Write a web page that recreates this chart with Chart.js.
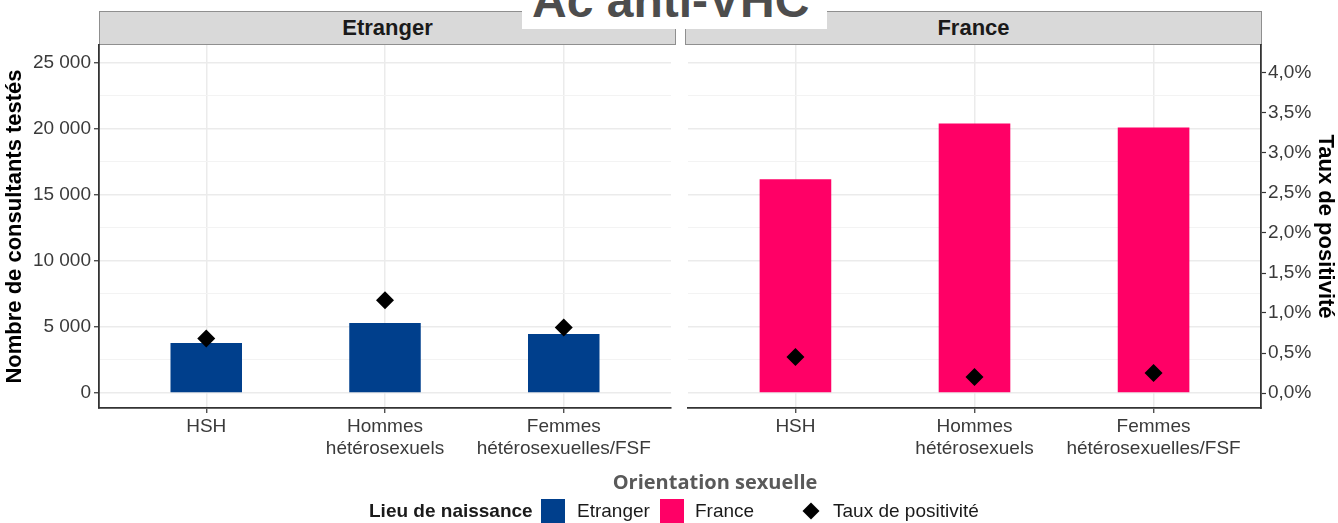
<!DOCTYPE html>
<html>
<head>
<meta charset="utf-8">
<title>Ac anti-VHC</title>
<script src="https://cdn.jsdelivr.net/npm/chart.js@4.4.1/dist/chart.umd.min.js"></script>
<style>
  body {
    margin: 0;
    width: 1338px;
    height: 523px;
    position: relative;
    overflow: hidden;
    background: #fff;
    font-family: "Liberation Sans", Arial, sans-serif;
  }
  canvas { position: absolute; top: 0; }
  .strip {
    position: absolute;
    top: 11px;
    height: 34px;
    box-sizing: border-box;
    background: #d9d9d9;
    border: 1px solid #8f8f8f;
    text-align: center;
    font-weight: bold;
    font-size: 22px;
    line-height: 32px;
    color: #1a1a1a;
  }
  .title {
    position: absolute;
    left: 522px;
    top: 0;
    width: 305px;
    height: 29px;
    background: #fff;
    overflow: hidden;
    z-index: 5;
  }
  .title span {
    position: absolute;
    left: 10px;
    top: -27px;
    font-size: 48px;
    font-weight: bold;
    color: #4d4d4d;
    white-space: nowrap;
  }
  .xtitle {
    position: absolute;
    left: 515px;
    width: 400px;
    top: 468px;
    text-align: center;
    font-family: "Open Sans", sans-serif;
    font-weight: bold;
    font-size: 20px;
    color: #595959;
  }
  .leg { position: absolute; top: 499px; font-size: 19px; color: #1a1a1a; line-height: 24px; white-space: nowrap; }
  .key { position: absolute; top: 499px; width: 24px; height: 24px; }
</style>
</head>
<body>

<div class="strip" id="strip0" style="left:99px;width:577px;"></div>
<div class="strip" id="strip1" style="left:685px;width:577px;"></div>
<div class="title"><span>Ac anti-VHC</span></div>

<canvas id="chartEtranger" width="680" height="523" style="left:0;width:680px;height:523px;"></canvas>
<canvas id="chartFrance" width="659" height="523" style="left:679px;width:659px;height:523px;"></canvas>

<div class="xtitle">Orientation sexuelle</div>
<div class="leg" style="left:369px;font-weight:bold;">Lieu de naissance</div>
<div class="key" style="left:541px;background:#003f8c;"></div>
<div class="leg" style="left:577px;">Etranger</div>
<div class="key" style="left:660px;background:#ff0066;"></div>
<div class="leg" style="left:695px;">France</div>
<div class="key" style="left:805px;top:505px;width:12px;height:12px;background:#000;transform:rotate(45deg);"></div>
<div class="leg" style="left:833px;">Taux de positivité</div>

<script>
// categories (x axis) and facets
const categories = [["HSH"], ["Hommes", "hétérosexuels"], ["Femmes", "hétérosexuelles/FSF"]];
const panels = ["Etranger", "France"];

// number of tested consultants, per facet
const testedEtranger = [3780, 5290, 4460];
const testedFrance = [16160, 20390, 20090];

// positivity rate (%), per facet
const rateEtranger = [0.68, 1.16, 0.82];
const rateFrance = [0.45, 0.20, 0.25];

// axis ticks
const countTicks = [0, 5000, 10000, 15000, 20000, 25000];
const rateTicks = [0, 0.5, 1, 1.5, 2, 2.5, 3, 3.5, 4];

const barColors = ["#003f8c", "#ff0066"];
const tickFont = { family: "Liberation Sans", size: 19 };
const titleFont = { family: "Liberation Sans", size: 22, weight: "bold" };
const gridMajor = "#ebebeb";
const gridMinor = "#f3f3f3";
const axisCol = "#333333";

document.getElementById("strip0").textContent = panels[0];
document.getElementById("strip1").textContent = panels[1];

// major ticks plus the minor ones between them
const countGrid = [];
countTicks.forEach((v, i) => {
  countGrid.push(v);
  if (i < countTicks.length - 1) countGrid.push((v + countTicks[i + 1]) / 2);
});

const fmtCount = (v) => String(v).replace(/\B(?=(\d{3})+(?!\d))/g, " ");
const fmtRate = (v) => v.toFixed(1).replace(".", ",") + "%";

// keep chart area fixed: no extra room for overflowing tick labels
function noPad(s) {
  s.paddingLeft = 0;
  s.paddingRight = 0;
  s.paddingTop = 0;
  s.paddingBottom = 0;
}

function makePanel(canvasId, tested, rate, color, side) {
  const isLeft = side === "left";
  return new Chart(document.getElementById(canvasId), {
    type: "bar",
    data: {
      datasets: [
        {
          type: "scatter",
          label: "Taux de positivité",
          data: rate.map((r, i) => ({ x: i + 1, y: r })),
          yAxisID: "rate",
          pointStyle: "rectRot",
          pointRadius: 9,
          pointHoverRadius: 9,
          backgroundColor: "#000",
          borderColor: "#000",
          borderWidth: 0,
          order: 0,
        },
        {
          label: panels[isLeft ? 0 : 1],
          data: tested.map((t, i) => ({ x: i + 1, y: t })),
          yAxisID: "count",
          backgroundColor: color,
          borderWidth: 0,
          categoryPercentage: 1,
          barPercentage: 0.4,
          order: 1,
        },
      ],
    },
    options: {
      responsive: false,
      animation: false,
      events: [],
      layout: {
        padding: { top: 45, bottom: 55, left: isLeft ? 0 : 4, right: isLeft ? 4 : 0 },
      },
      plugins: { legend: { display: false }, tooltip: { enabled: false } },
      scales: {
        x: {
          type: "linear",
          min: 0.4,
          max: 3.6,
          offset: false,
          afterBuildTicks: (s) => { s.ticks = categories.map((c, i) => ({ value: i + 1 })); },
          afterFit: (s) => { s.height = 60; noPad(s); },
          ticks: {
            callback: (v) => categories[v - 1],
            font: tickFont,
            color: "#3a3a3a",
            padding: 2,
            maxRotation: 0,
            autoSkip: false,
          },
          grid: { offset: false, color: gridMajor, lineWidth: 1.5, tickLength: 5, tickColor: axisCol, tickWidth: 1.2 },
          border: { display: true, color: axisCol, width: 1.8 },
        },
        count: {
          type: "linear",
          position: "left",
          min: -1135,
          max: 26324,
          afterBuildTicks: (s) => { s.ticks = countGrid.map((v) => ({ value: v })); },
          afterFit: (s) => { s.width = isLeft ? 99 : 0; noPad(s); },
          ticks: {
            display: isLeft,
            callback: (v) => (countTicks.includes(v) ? fmtCount(v) : ""),
            font: tickFont,
            color: "#3a3a3a",
            padding: 3,
          },
          grid: {
            color: (c) => (countTicks.includes(c.tick.value) ? gridMajor : gridMinor),
            lineWidth: (c) => (countTicks.includes(c.tick.value) ? 1.5 : 1),
            drawTicks: isLeft,
            tickLength: 5,
            tickColor: (c) => (countTicks.includes(c.tick.value) ? axisCol : "rgba(0,0,0,0)"),
            tickWidth: 1.2,
          },
          border: { display: isLeft, color: axisCol, width: 1.8 },
          title: {
            display: isLeft,
            text: "Nombre de consultants testés",
            font: titleFont,
            color: "#000",
            padding: { top: 2, bottom: 0 },
          },
        },
        rate: {
          type: "linear",
          position: "right",
          display: !isLeft,
          min: -0.1875,
          max: 4.35,
          afterBuildTicks: (s) => { s.ticks = rateTicks.map((v) => ({ value: v })); },
          afterFit: (s) => { s.width = isLeft ? 0 : 77; noPad(s); },
          ticks: { callback: (v) => fmtRate(v), font: tickFont, color: "#3a3a3a", padding: 2 },
          grid: { drawOnChartArea: false, tickLength: 5, tickColor: axisCol, tickWidth: 1.2 },
          border: { display: true, color: axisCol, width: 1.8 },
          title: {
            display: true,
            text: "Taux de positivité",
            font: titleFont,
            color: "#000",
            padding: { top: 0, bottom: 0 },
          },
        },
      },
    },
  });
}

makePanel("chartEtranger", testedEtranger, rateEtranger, barColors[0], "left");
makePanel("chartFrance", testedFrance, rateFrance, barColors[1], "right");
</script>
</body>
</html>
